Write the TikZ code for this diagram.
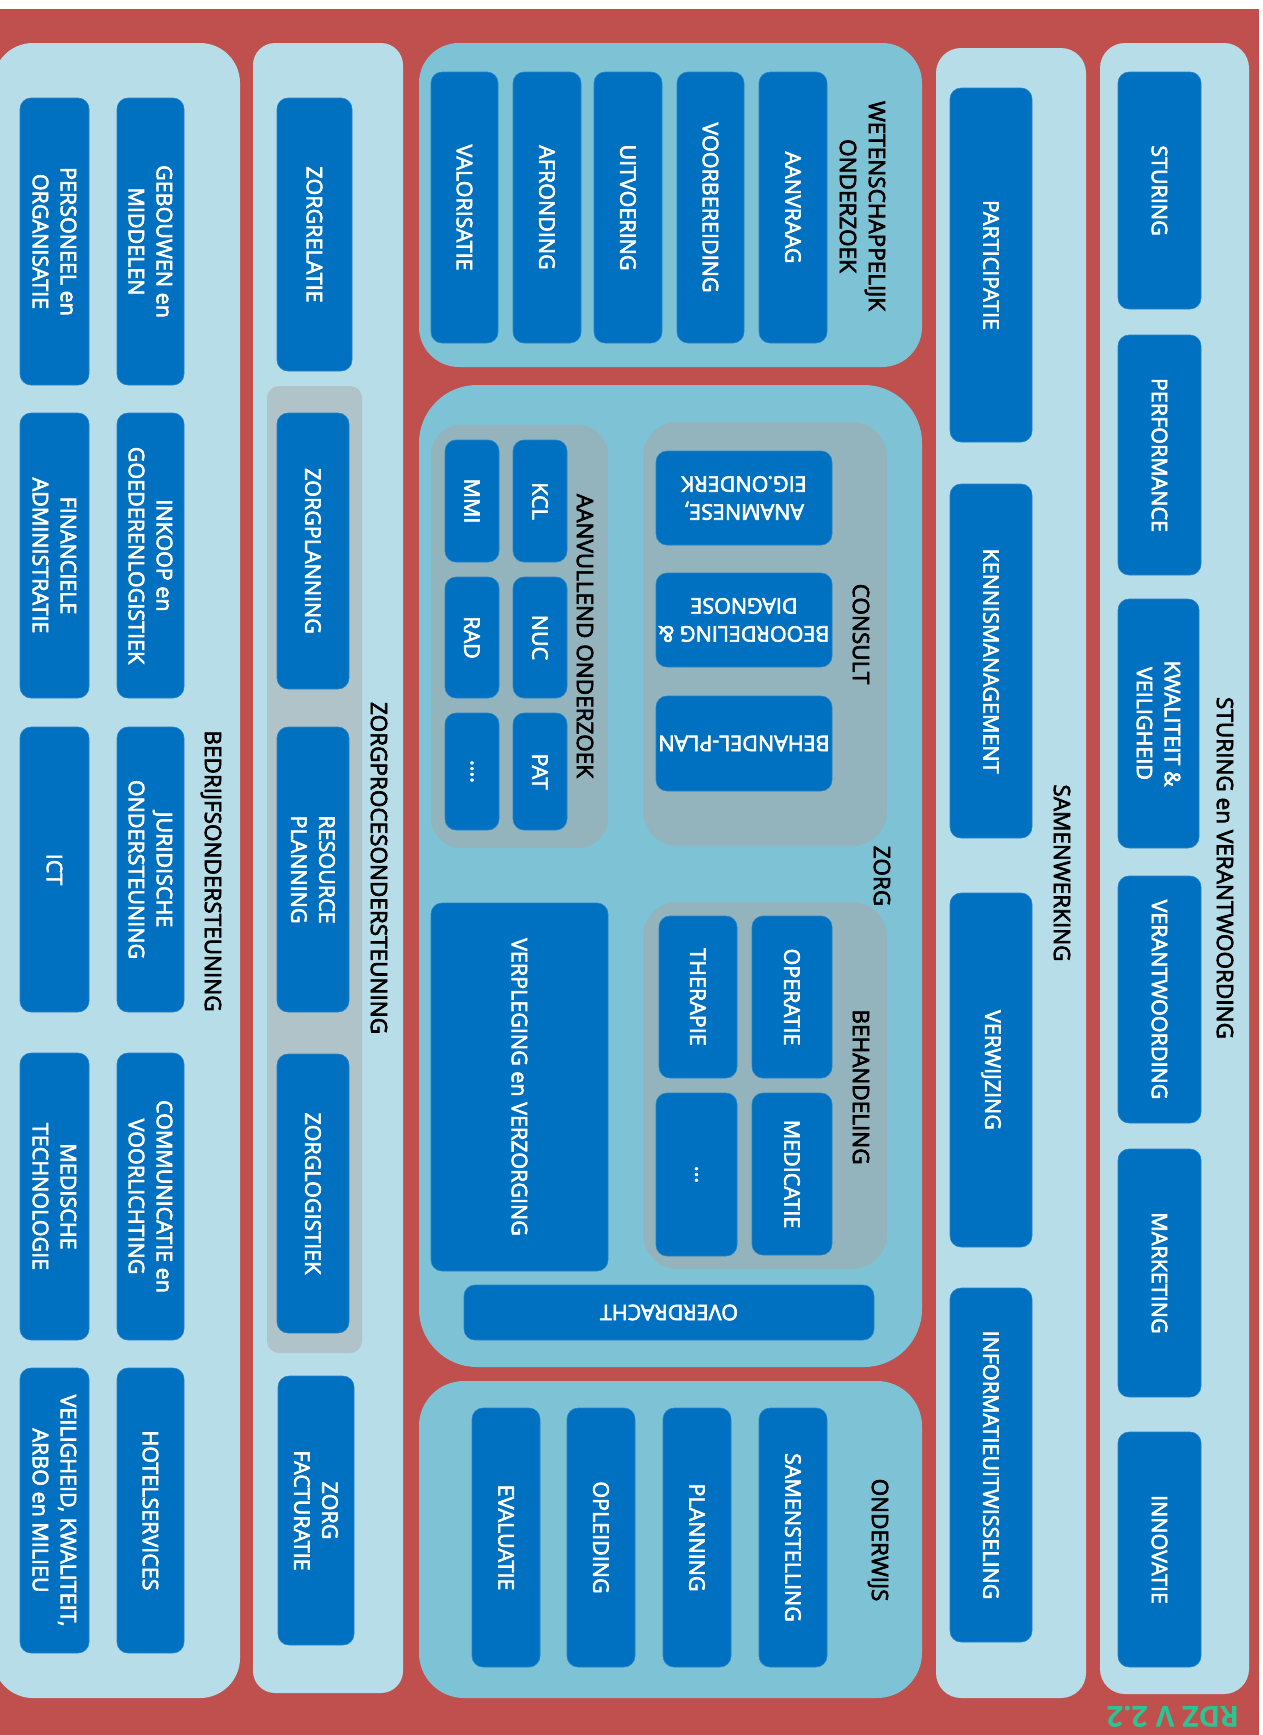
\documentclass[tikz,border=0pt]{standalone}
\usepackage{fontspec}
\setmainfont{Open Sans}
\newfontfamily\heavyish{Open Sans}[FakeBold=3]
\usetikzlibrary{fit}

\definecolor{bgred}{HTML}{C0504D}
\definecolor{pale}{HTML}{B7DDE8}
\definecolor{midblue}{HTML}{7EC2D5}
\definecolor{grpgray}{HTML}{93B3BD}
\definecolor{grpgraylt}{HTML}{AFC3C9}
\definecolor{tileblue}{HTML}{0070C0}
\definecolor{vergreen}{HTML}{2BC494}

% a dark tile: box from (x1,y1) to (x2,y2) plus its rotated caption
\newcommand\placetile[7]{%
  \node[tilebox, fit={(#2,#3) (#4,#5)}] (#1) {};
  \node[tilelabel, rotate=#6] (#1-t) at (#1.center) {#7};}

\begin{document}
\begin{tikzpicture}[x=1pt, y=-1pt,
  panel/.style={inner sep=0pt, outer sep=0pt},
  tilebox/.style={fill=tileblue, draw=tileblue!85!white, line width=0.6pt,
                  rounded corners=11pt, inner sep=0pt},
  tilelabel/.style={text=white, inner sep=0pt, align=center,
                    font=\heavyish\fontsize{21.5}{28}\selectfont},
  title/.style={text=black, inner sep=0pt, align=center,
                font=\heavyish\fontsize{22.5}{29}\selectfont},
]
\useasboundingbox (0,0) rectangle (1262,1735);
\fill[white] (0,0) rectangle (1262,1735);
\node[panel, fill=bgred, fit={(0,9) (1259,1735)}] (frame) {};

% ---- main panels ----
\node[panel, fill=pale, rounded corners=40pt, fit={(-7,43) (240,1698)}] (bedrijf) {};
\node[panel, fill=pale, rounded corners=22pt, fit={(253,43) (403,1693)}] (zproces) {};
\node[panel, fill=midblue, rounded corners=40pt, fit={(419,43) (922,367)}] (wo) {};
\node[panel, fill=midblue, rounded corners=58pt, fit={(419,385) (922,1367)}] (zorg) {};
\node[panel, fill=midblue, rounded corners=45pt, fit={(419,1381) (922,1698)}] (onderwijs) {};
\node[panel, fill=pale, rounded corners=25pt, fit={(936,48) (1086,1698)}] (samenw) {};
\node[panel, fill=pale, rounded corners=25pt, fit={(1100,43) (1249,1694)}] (sturing) {};

% ---- grey groups ----
\node[panel, fill=grpgray, rounded corners=35pt, fit={(643,422) (887,846)}] (consult) {};
\node[panel, fill=grpgray, rounded corners=30pt, fit={(431,425) (608,848)}] (aanvullend) {};
\node[panel, fill=grpgray, rounded corners=35pt, fit={(643,902) (887,1269)}] (behandeling) {};
\node[panel, fill=grpgraylt, rounded corners=12pt, fit={(267,386) (362,1353)}] (zpgroep) {};

% ---- titles ----
\node[title, rotate=-90] (t-sturing) at (1225,868) {STURING en VERANTWOORDING};
\node[title, rotate=-90] (t-samenw) at (1062,873) {SAMENWERKING};
\node[title, rotate=-90] (t-wo) at (862.5,206) {WETENSCHAPPELIJK\\ONDERZOEK};
\node[title, rotate=-90] (t-zorg) at (882,876) {ZORG};
\node[title, rotate=-90] (t-consult) at (861,634) {CONSULT};
\node[title, rotate=-90] (t-aanv) at (585,636) {AANVULLEND ONDERZOEK};
\node[title, rotate=-90] (t-behand) at (861,1087) {BEHANDELING};
\node[title, rotate=-90] (t-onderwijs) at (878,1540) {ONDERWIJS};
\node[title, rotate=-90] (t-zproces) at (379,868) {ZORGPROCESONDERSTEUNING};
\node[title, rotate=-90] (t-bedrijf) at (211,871) {BEDRIJFSONDERSTEUNING};

% ---- sturing en verantwoording ----
\placetile{stu}{1118}{72}{1201}{309}{-90}{STURING}
\placetile{perf}{1118}{335}{1201}{575}{-90}{PERFORMANCE}
\placetile{kwal}{1118}{599}{1199}{848}{-90}{KWALITEIT \&\\VEILIGHEID}
\placetile{verant}{1118}{876}{1201}{1123}{-90}{VERANTWOORDING}
\placetile{mark}{1118}{1149}{1201}{1397}{-90}{MARKETING}
\placetile{innov}{1118}{1432}{1201}{1667}{-90}{INNOVATIE}

% ---- samenwerking ----
\placetile{partic}{950}{88}{1032}{442}{-90}{PARTICIPATIE}
\placetile{kennis}{950}{484}{1032}{838}{-90}{KENNISMANAGEMENT}
\placetile{verwijz}{950}{893}{1032}{1247}{-90}{VERWIJZING}
\placetile{infouit}{950}{1288}{1032}{1642}{-90}{INFORMATIEUITWISSELING}

% ---- wetenschappelijk onderzoek ----
\placetile{valor}{431}{72}{498}{343}{-90}{VALORISATIE}
\placetile{afrond}{513}{72}{581}{343}{-90}{AFRONDING}
\placetile{uitvoer}{594}{72}{662}{343}{-90}{UITVOERING}
\placetile{voorber}{677}{72}{744}{343}{-90}{VOORBEREIDING}
\placetile{aanvr}{759}{72}{827}{343}{-90}{AANVRAAG}

% ---- zorg: consult ----
\placetile{anam}{656}{451}{832}{545}{180}{ANAMNESE,\\EIG.ONDERK}
\placetile{beoord}{656}{573}{832}{667}{180}{BEOORDELING \&\\DIAGNOSE}
\placetile{behplan}{656}{696}{832}{791}{180}{BEHANDEL-PLAN}

% ---- zorg: aanvullend onderzoek ----
\placetile{kcl}{513}{440}{567}{562}{-90}{KCL}
\placetile{nuc}{513}{577}{567}{698}{-90}{NUC}
\placetile{pat}{513}{713}{567}{830}{-90}{PAT}
\placetile{mmi}{445}{440}{499}{562}{-90}{MMI}
\placetile{rad}{445}{577}{499}{698}{-90}{RAD}
\placetile{meer}{445}{713}{499}{830}{-90}{....}

% ---- zorg: behandeling ----
\placetile{operatie}{752}{916}{832}{1078}{-90}{OPERATIE}
\placetile{medicatie}{752}{1093}{832}{1255}{-90}{MEDICATIE}
\placetile{therapie}{659}{916}{737}{1078}{-90}{THERAPIE}
\placetile{overig}{656}{1093}{737}{1256}{-90}{...}

\placetile{verpleging}{431}{903}{608}{1271}{-90}{VERPLEGING en VERZORGING}
\placetile{overdracht}{464}{1285}{874}{1340}{180}{OVERDRACHT}

% ---- onderwijs ----
\placetile{evaluatie}{472}{1408}{540}{1667}{-90}{EVALUATIE}
\placetile{opleiding}{567}{1408}{635}{1667}{-90}{OPLEIDING}
\placetile{planning}{663}{1408}{731}{1667}{-90}{PLANNING}
\placetile{samenst}{759}{1408}{827}{1667}{-90}{SAMENSTELLING}

% ---- zorgprocesondersteuning ----
\placetile{zrelatie}{277}{98}{352}{371}{-90}{ZORGRELATIE}
\placetile{zplanning}{277}{413}{349}{689}{-90}{ZORGPLANNING}
\placetile{resource}{277}{727}{349}{1012}{-90}{RESOURCE\\PLANNING}
\placetile{zlogistiek}{277}{1054}{349}{1333}{-90}{ZORGLOGISTIEK}
\placetile{zfact}{278}{1376}{354}{1645}{-90}{ZORG\\FACTURATIE}

% ---- bedrijfsondersteuning ----
\placetile{gebouwen}{117}{98}{184}{385}{-90}{GEBOUWEN en\\MIDDELEN}
\placetile{inkoop}{117}{413}{184}{698}{-90}{INKOOP en\\GOEDERENLOGISTIEK}
\placetile{juridisch}{117}{727}{184}{1012}{-90}{JURIDISCHE\\ONDERSTEUNING}
\placetile{communicatie}{117}{1053}{184}{1340}{-90}{COMMUNICATIE en\\VOORLICHTING}
\placetile{hotel}{117}{1368}{184}{1653}{-90}{HOTELSERVICES}
\placetile{personeel}{20}{98}{89}{385}{-90}{PERSONEEL en\\ORGANISATIE}
\placetile{financ}{20}{413}{89}{698}{-90}{FINANCIELE\\ADMINISTRATIE}
\placetile{ict}{20}{727}{89}{1012}{-90}{ICT}
\placetile{medtech}{20}{1053}{89}{1340}{-90}{MEDISCHE\\TECHNOLOGIE}
\placetile{veilig}{20}{1368}{89}{1653}{-90}{VEILIGHEID, KWALITEIT,\\ARBO en MILIEU}

% ---- version mark ----
\node[text=vergreen, inner sep=0pt, rotate=180,
      font=\fontsize{29}{32}\selectfont\bfseries] (versie) at (1173,1717) {RDZ V 2.2};
\end{tikzpicture}
\end{document}
